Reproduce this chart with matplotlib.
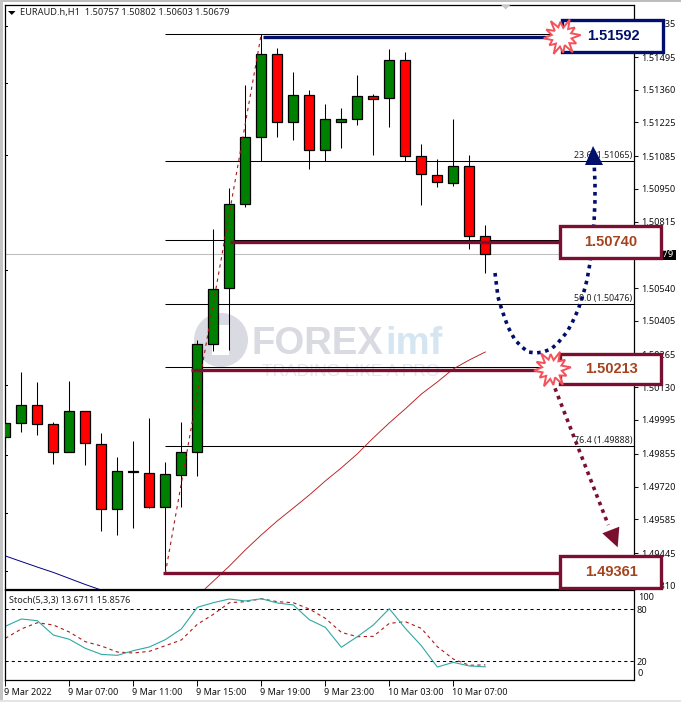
import numpy as np
import matplotlib
matplotlib.use("Agg")
import matplotlib.pyplot as plt
from matplotlib.patches import Polygon, Rectangle, Circle

W, H = 681, 702
FONT = "Noto Sans"
plt.rcParams['font.family'] = [FONT, 'DejaVu Sans']

# ---- data -----------------------------------------------------------------
opens = [1.49923,1.49981,1.50056,1.49977,1.49861,1.50031,1.49895,1.49626,1.49783,1.49775,1.49637,
         1.49769,1.49864,1.50308,1.50539,1.50886,1.51163,1.51506,1.51225,1.51339,1.51110,1.51228,
         1.51238,1.51333,1.51324,1.51481,1.51085,1.51006,1.50976,1.51043,1.50757]
highs = [1.50057,1.50193,1.50152,1.49987,1.50156,1.50031,1.49940,1.49841,1.49908,1.50003,1.49821,
         1.49987,1.50324,1.50784,1.50952,1.51379,1.51592,1.51531,1.51433,1.51359,1.51301,1.51284,
         1.51421,1.51342,1.51527,1.51516,1.51136,1.51072,1.51239,1.51090,1.50802]
lows = [1.49885,1.49947,1.49934,1.49814,1.49861,1.49810,1.49537,1.49521,1.49549,1.49632,1.49361,
        1.49637,1.49764,1.50281,1.50285,1.50876,1.51064,1.51166,1.51153,1.51033,1.51064,1.51120,
        1.51215,1.51091,1.51207,1.51064,1.50885,1.50959,1.50963,1.50703,1.50603]
closes = [1.49981,1.50058,1.49977,1.49861,1.50031,1.49899,1.49626,1.49783,1.49778,1.49637,1.49770,
          1.49861,1.50308,1.50535,1.50886,1.51163,1.51506,1.51225,1.51339,1.51110,1.51238,1.51238,
          1.51333,1.51323,1.51481,1.51085,1.51010,1.50980,1.51043,1.50754,1.50679]
ma_red_bars = list(range(12, 31))
ma_red = [1.49267,1.49329,1.49391,1.49458,1.49520,1.49578,1.49631,1.49685,1.49743,1.49797,1.49855,
          1.49921,1.49983,1.50041,1.50102,1.50152,1.50206,1.50243,1.50276]
ma_blue_bars = [0,1,2,3,4,5,6]
ma_blue = [1.49433,1.49410,1.49387,1.49365,1.49340,1.49315,1.49292]
stoch_main = [60.4,68.8,66.9,50.3,45.4,35,28,26.9,32.3,36.5,45,57.3,82.3,87.6,91.9,89.6,92.2,87.3,85,
              68,59.2,36.2,48.4,61.9,80.7,58,38,13.4,18.8,14.6,13.67]
stoch_signal = [46.5,57.3,64.5,61.9,53.8,42.6,37.7,30.7,29.6,31.5,38,44.6,62.7,74.2,87.6,88.8,92.2,
                88.8,87.6,80.3,69.6,53.4,48.4,48.8,63.8,65.7,58,36.9,22.6,15.4,15.86]
fib_levels = [1.51592,1.51065,1.50738,1.50476,1.50213,1.49888,1.49361]
fib_labels = {1.51065:"23.6 (1.51065)", 1.50476:"50.0 (1.50476)", 1.49888:"76.4 (1.49888)"}
price_ticks = [1.51635,1.51495,1.51360,1.51225,1.51085,1.50950,1.50815,1.50675,1.50540,1.50405,
               1.50265,1.50130,1.49995,1.49855,1.49720,1.49585,1.49445,1.49310]
time_ticks = [0,4,8,12,16,20,24,28]
time_labels = ["9 Mar 2022","9 Mar 07:00","9 Mar 11:00","9 Mar 15:00","9 Mar 19:00",
               "9 Mar 23:00","10 Mar 03:00","10 Mar 07:00"]
box_labels = ["1.51592","1.50740","1.50213","1.49361"]
title = "EURAUD.h,H1  1.50757 1.50802 1.50603 1.50679"
stoch_title = "Stoch(5,3,3) 13.6711 15.8576"
bid = 1.50679

# ---- layout ---------------------------------------------------------------
NAVY, MAROON, BOXTXT, BURST = "#000F6B", "#7A1030", "#A5431E", "#F4515A"
GREEN, RED = "#008000", "#FF0000"
THIN = 0.75
TICK_FS = 6.6
fig = plt.figure(figsize=(W/100, H/100), dpi=100, facecolor="white")
def axpx(x0, y0, x1, y1, **kw):
    return fig.add_axes([x0/W, 1-y1/H, (x1-x0)/W, (y1-y0)/H], **kw)

PX0, PX1 = 4.5, 633.5
xlim = ((PX0-5.33)/16, (PX1-5.33)/16)
ax = axpx(PX0, 4.5, PX1, 588.5)
P = lambda y: 1.517306 - y*0.000041327
ax.set_xlim(*xlim); ax.set_ylim(P(588.5), P(4.5))
st = axpx(PX0, 590, PX1, 679.5)
st.set_xlim(*xlim)
st.set_ylim(80-(679.5-609.3)/0.8667, 80+(609.3-590)/0.8667)

for a in (ax, st):
    for s in a.spines.values():
        s.set_linewidth(THIN+0.15); s.set_color("black")

# watermark
wm = axpx(0, 0, W, H, label="wm", zorder=0.5); wm.set_xlim(0, W); wm.set_ylim(H, 0); wm.axis("off")
ax.set_zorder(1); ax.patch.set_alpha(0); st.set_zorder(1)
wm.add_patch(Circle((221, 340), 27, fc="#DADAE2", ec="none"))
wm.add_patch(Rectangle((212, 325), 17, 30, fc="white", ec="none"))
wm.add_patch(Rectangle((212, 325), 7, 14, fc="#DADAE2", ec="none"))
wm.text(252, 344, "FOREX", fontsize=27.5, fontweight="bold", color="#DADAE2", va="center", family="Liberation Sans")
wm.text(385, 344, "imf", fontsize=27.5, fontweight="bold", color="#D5E6F2", va="center", family="Liberation Sans")
wm.text(262, 372, "TRADING LIKE A PRO", fontsize=12.5, color="#E6E6EC", va="center", family="Liberation Sans")

# lines under candles
ax.axhline(bid, color="#BEBEBE", lw=THIN, zorder=1)
for lv in fib_levels:
    ax.plot([10, xlim[1]], [lv, lv], color="black", lw=THIN, zorder=1.5, solid_capstyle="butt")
    if lv in fib_labels:
        ax.annotate(fib_labels[lv], (xlim[1], lv), xytext=(-1.5, 5.5), textcoords="offset pixels",
                    ha="right", va="center", fontsize=6.4, color="#222222", zorder=1.6)

# candles
for i, (o, h, l, c) in enumerate(zip(opens, highs, lows, closes)):
    ax.plot([i, i], [l, h], color="black", lw=THIN, zorder=2, solid_capstyle="butt")
    up = c >= o
    ax.add_patch(Rectangle((i-0.31, min(o, c)), 0.62, abs(c-o), fc=GREEN if up else RED,
                           ec="black", lw=THIN+0.15, zorder=3))
ax.plot(ma_red_bars, ma_red, color="#B81C1C", lw=0.65, zorder=4)
ax.plot(ma_blue_bars, ma_blue, color="#00007F", lw=0.7, zorder=4)
ax.plot([10, 16], [lows[10], highs[16]], color="#A81818", lw=0.8, ls=(0, (3, 3.5)), zorder=4)
ax.set_xticks([])
ax.yaxis.tick_right()
ax.set_yticks(price_ticks)
ax.set_yticklabels(["" if t == 1.50675 else f"{t:.5f}" for t in price_ticks])
ax.tick_params(axis="y", length=3, width=THIN, pad=2.2, labelsize=TICK_FS, colors="#111111")

# stochastic panel
st.axhline(80, color="black", lw=THIN, ls=(0, (3, 3)))
st.axhline(20, color="black", lw=THIN, ls=(0, (3, 3)))
st.plot(range(len(stoch_signal)), stoch_signal, color="#B01818", lw=0.8, ls=(0, (3, 3)))
st.plot(range(len(stoch_main)), stoch_main, color="#2FA8A4", lw=0.8)
st.text(0.0075, 0.88, stoch_title, transform=st.transAxes, fontsize=6.5, color="#222222", va="center")
st.yaxis.tick_right()
st.set_yticks([100, 80, 20, 0])
st.set_yticklabels(["", "80", "20", ""])
st.tick_params(axis="y", length=0, pad=2, labelsize=TICK_FS, colors="#111111")
st.set_xticks(time_ticks)
st.set_xticklabels(time_labels, ha="left")
st.tick_params(axis="x", length=4, width=THIN, pad=2, labelsize=6.5, colors="#111111")
for lab in st.get_xticklabels():
    lab.set_transform(lab.get_transform() + matplotlib.transforms.ScaledTranslation(-1/100, 0, fig.dpi_scale_trans))

# overlay: hand-drawn annotations, window chrome and text
ov = axpx(0, 0, W, H, label="ov", zorder=5); ov.set_xlim(0, W); ov.set_ylim(H, 0); ov.axis("off")
ov.patch.set_alpha(0)
ov.add_patch(Rectangle((0, 0), W, 2.3, fc="#BDBDBD", ec="none"))
ov.add_patch(Rectangle((0, 0), 2.5, H, fc="#C4C4C4", ec="none"))
ov.add_patch(Rectangle((0, 699.5), W, 3, fc="#E4E4E4", ec="none"))
ov.add_patch(Polygon([[8, 11], [15.5, 11], [11.8, 15]], fc="black", ec="none"))
ov.add_patch(Polygon([[501, 4.8], [510.5, 4.8], [505.7, 9.5]], fc="#C8C8C8", ec="none"))
for y in [25.7, 83.3, 155, 270, 385, 455, 512.7, 570.7]:
    ov.plot([4.5, 6.5], [y, y], color="black", lw=THIN)
ov.text(20, 12.6, title, fontsize=6.66, color="#222222", va="center")
ov.text(638, 597.5, "100", fontsize=TICK_FS, color="#111111", va="center")
ov.text(638, 673, "0", fontsize=TICK_FS, color="#111111", va="center")
# bid label
ov.add_patch(Rectangle((635, 249.7), 41, 10, fc="black", ec="none", zorder=2))
ov.text(639, 254.6, f"{bid:.5f}", fontsize=TICK_FS, color="white", va="center", zorder=2.1)

# thick level lines
for (x0, x1, y, col) in [(263, 560, 37.2, NAVY), (230, 560, 241.8, MAROON),
                         (191, 545, 370, MAROON), (163, 560, 573.2, MAROON)]:
    ov.plot([x0, x1], [y, y], color=col, lw=2.4, solid_capstyle="butt", zorder=3)

# dotted arrows
cx = [495,498,500,503,508,515,522,528,536,543,551,557,567,572,578,583,587,590,594,595,595,594.3]
cy = [273,297,304,313,327,340,347,352,353,352,349,344,332,323,310,295,280,263,223,200,183,167]
ov.plot(cx, cy, color=NAVY, lw=2.6, ls=(0, (1, 1.25)), zorder=3.5)
ov.add_patch(Polygon([[593, 146], [585, 165], [603, 165]], fc=NAVY, ec="none", zorder=3.5))
ov.plot([555, 608.3], [388.3, 525], color=MAROON, lw=2.6, ls=(0, (1, 1.25)), zorder=3.5)
ov.add_patch(Polygon([[602.3, 533.3], [619.3, 526.7], [617.7, 547.3]], fc=MAROON, ec="none", zorder=3.5))

# label boxes
boxes = [(561.5, 19.5, 662.5, 52.3, NAVY, NAVY), (559.5, 225.5, 660.5, 257.5, MAROON, BOXTXT),
         (559.5, 353.5, 660.5, 384.3, MAROON, BOXTXT), (559.5, 555.8, 660.5, 587.6, MAROON, BOXTXT)]
for (x0, y0, x1, y1, ec, tc), lab in zip(boxes, box_labels):
    ov.add_patch(Rectangle((x0, y0), x1-x0, y1-y0, fc="white", ec=ec, lw=2.4, zorder=4))
    ov.text((x0+x1)/2+1, (y0+y1)/2, lab, fontsize=10.5, fontweight="bold", color=tc,
            ha="center", va="center", family="Liberation Sans", zorder=5)

# burst markers
star_ang = np.deg2rad(np.arange(0, 360, 15) + 5)
star_rad = [19,10,16,10,19,9,15,10,19,9,17,10,18,10,15,9,19,10,16,9,19,10,16,10]
for (bx, by) in [(561.7, 36.7), (552, 369)]:
    pts = [[bx + r*np.cos(a), by - r*np.sin(a)] for a, r in zip(star_ang, star_rad)]
    ov.add_patch(Polygon(pts, fc="white", ec=BURST, lw=1.4, zorder=6))

fig.savefig("out.png", dpi=100)
